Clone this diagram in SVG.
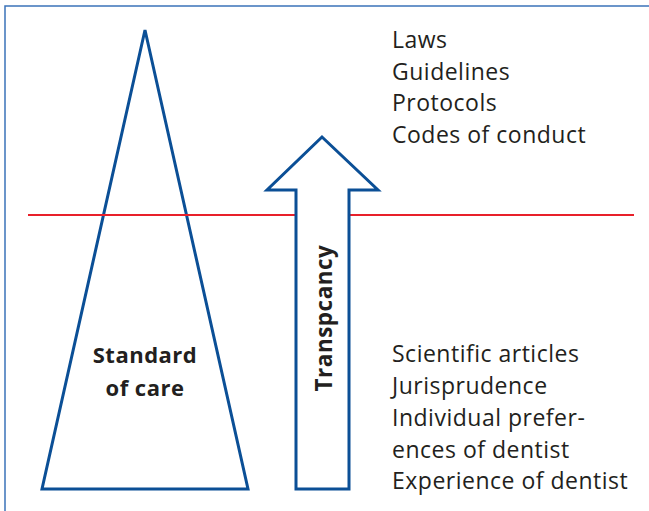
<svg xmlns="http://www.w3.org/2000/svg" width="649" height="511" viewBox="0 0 649 511">
<style>
.shape{fill:#fff;stroke:#0b4f96;stroke-width:3;stroke-linejoin:miter}
.t{font-family:"Open Sans","Noto Sans",sans-serif;font-size:23px;letter-spacing:0.5px;fill:#231f20}
.b{font-family:"Open Sans","Noto Sans",sans-serif;font-size:22px;letter-spacing:0.5px;font-weight:bold;fill:#231f20}
</style>
<rect width="649" height="511" fill="#fff"/>
<path d="M5,511 V6 H649" fill="none" stroke="#3b73b9" stroke-width="1.5"/>
<g id="triangle">
<polygon class="shape" points="145,30 248,489 42,489"/>
</g>
<g id="connectors">
<line x1="28" y1="215" x2="634" y2="215" stroke="#e8202a" stroke-width="2"/>
</g>
<g id="arrow">
<polygon class="shape" points="322,137 378,190 349,190 349,489 296,489 296,190 267,190"/>
</g>
<g id="standard">
<text class="b" x="145" y="363" text-anchor="middle">Standard</text>
<text class="b" x="145" y="396" text-anchor="middle">of care</text>
</g>
<g id="transparency">
<text class="b" transform="translate(332,318) rotate(-90)" text-anchor="middle" style="font-size:22.5px">Transpcancy</text>
</g>
<g id="top-list">
<text class="t" x="392" y="48">Laws</text>
<text class="t" x="392" y="79.5">Guidelines</text>
<text class="t" x="392" y="111">Protocols</text>
<text class="t" x="392" y="142.5">Codes of conduct</text>
</g>
<g id="bottom-list">
<text class="t" x="392" y="362">Scientific articles</text>
<text class="t" x="392" y="394">Jurisprudence</text>
<text class="t" x="392" y="425.5">Individual prefer-</text>
<text class="t" x="392" y="457.5">ences of dentist</text>
<text class="t" x="392" y="489">Experience of dentist</text>
</g>
</svg>
